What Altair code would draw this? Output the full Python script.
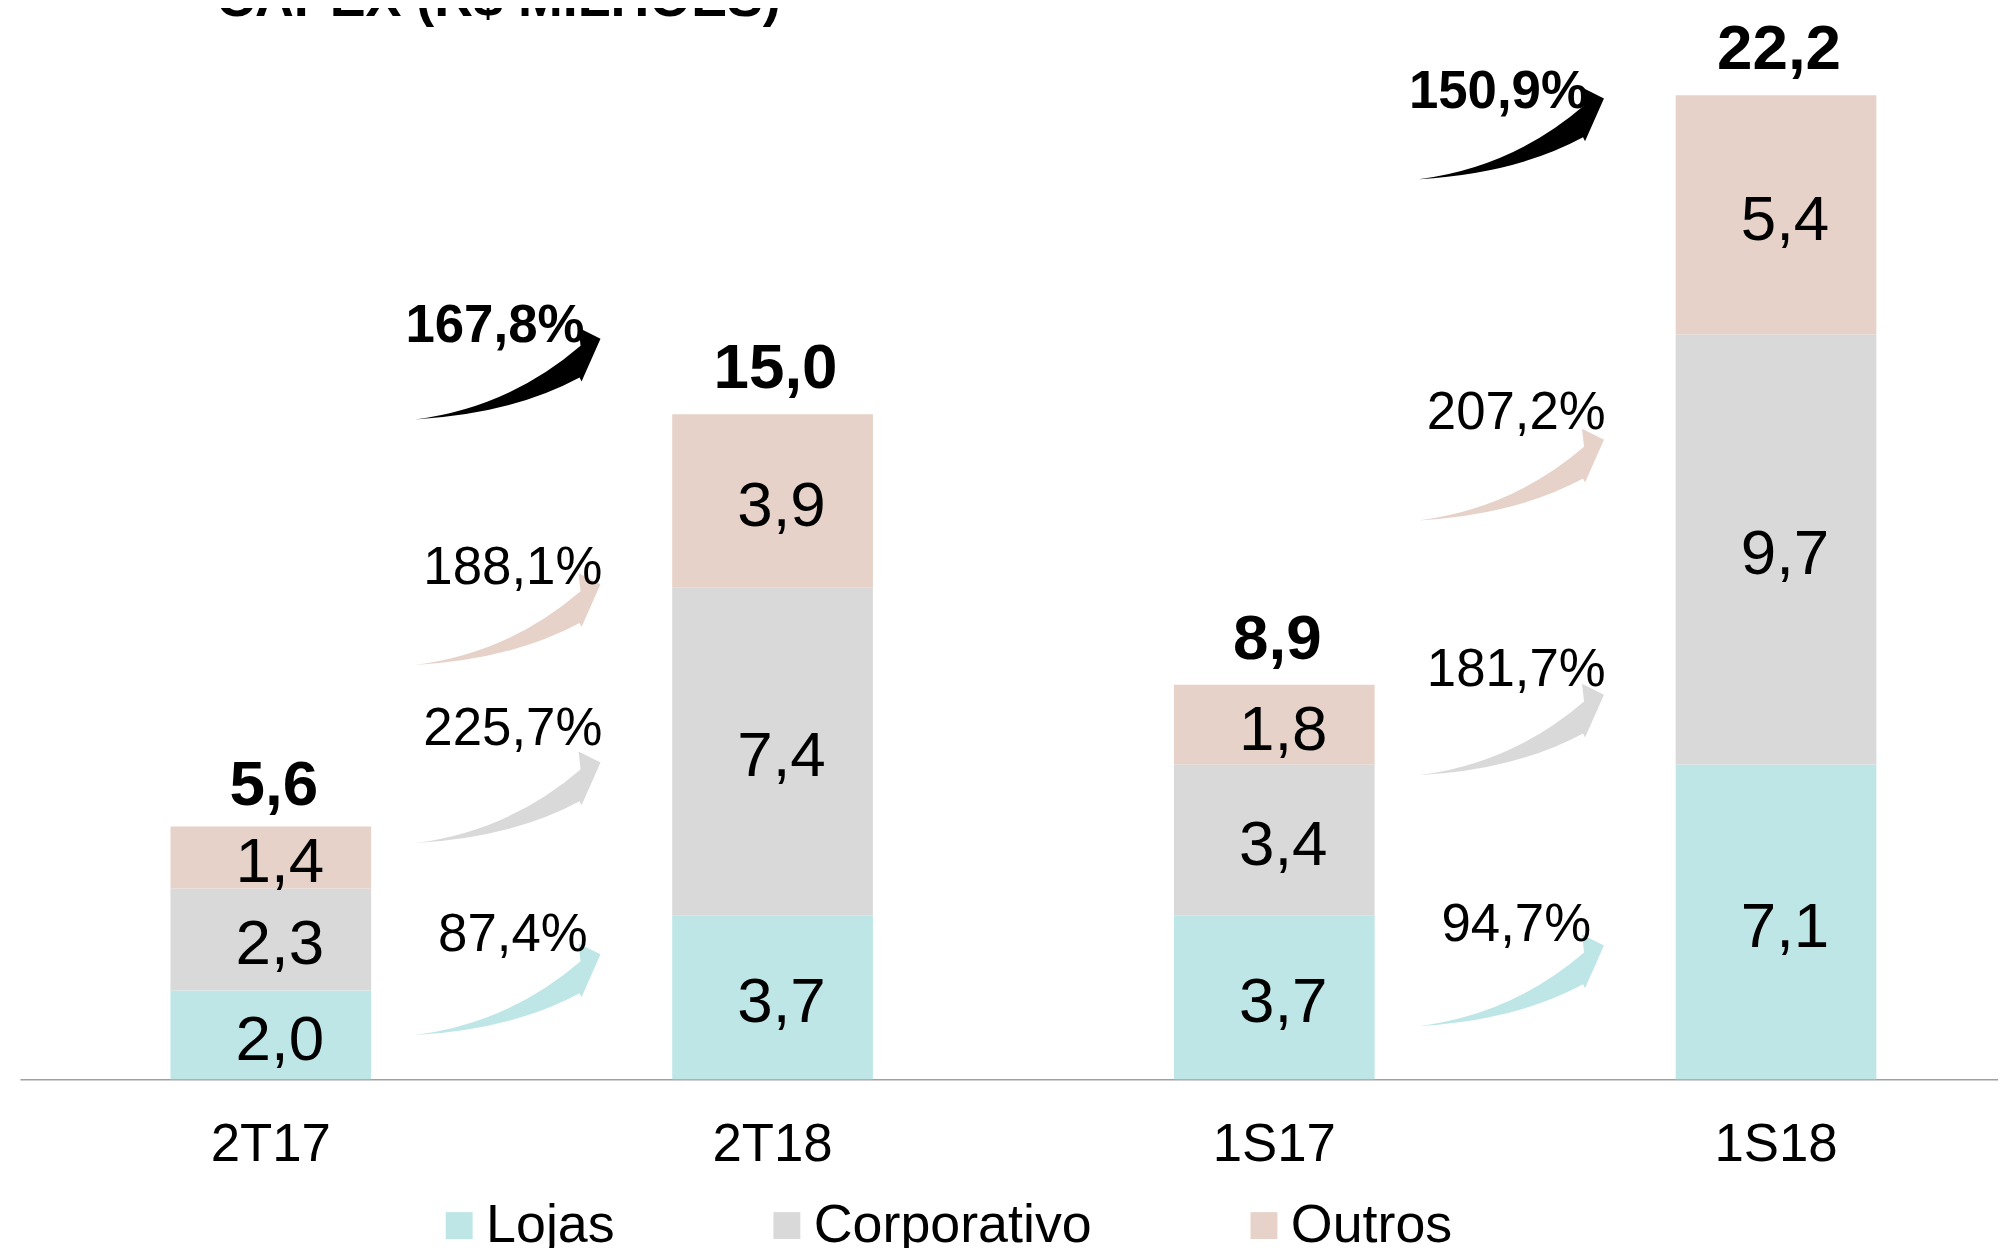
import altair as alt
import pandas as pd

# ---------------- data ----------------
periodos = ["2T17", "2T18", "1S17", "1S18"]
series = ["Lojas", "Corporativo", "Outros"]
lojas = [2.0, 3.7, 3.7, 7.1]
corporativo = [2.3, 7.4, 3.4, 9.7]
outros = [1.4, 3.9, 1.8, 5.4]
totais = [5.6, 15.0, 8.9, 22.2]

# growth arrows: from period -> next period
var_de = ["2T17", "1S17"]
var_lojas = ["87,4%", "94,7%"]
var_corporativo = ["225,7%", "181,7%"]
var_outros = ["188,1%", "207,2%"]
var_total = ["167,8%", "150,9%"]
# vertical level (R$ mi) of each arrow and of its label
nivel_seta_lojas = [2.03, 2.23]
nivel_seta_corporativo = [6.36, 7.89]
nivel_seta_outros = [10.38, 13.64]
nivel_seta_total = [15.92, 21.34]
nivel_rot_lojas = [3.26, 3.48]
nivel_rot_corporativo = [7.89, 9.24]
nivel_rot_outros = [11.53, 15.03]
nivel_rot_total = [17.0, 22.28]

titulo = ["CAPEX (R$ MILHÕES)"]

# ---------------- styling ----------------
FONT = "Liberation Sans"
cores = ["#BFE6E6", "#D9D9D9", "#E6D2C8"]


def fmt(v):
    return f"{v:.1f}".replace(".", ",")


rows = []
for i, p in enumerate(periodos):
    base = 0.0
    for k, (s, vals) in enumerate(zip(series, [lojas, corporativo, outros])):
        v = vals[i]
        rows.append(dict(periodo=p, serie=s, valor=v, ordem=k,
                         meio=base + v / 2, rotulo=fmt(v)))
        base += v
df_bars = pd.DataFrame(rows)

df_tot = pd.DataFrame(dict(periodo=periodos, total=totais,
                           rotulo=[fmt(t) for t in totais]))

arows = []
for s, pcts, ns, nr in [
    ("Lojas", var_lojas, nivel_seta_lojas, nivel_rot_lojas),
    ("Corporativo", var_corporativo, nivel_seta_corporativo, nivel_rot_corporativo),
    ("Outros", var_outros, nivel_seta_outros, nivel_rot_outros),
    ("Total", var_total, nivel_seta_total, nivel_rot_total),
]:
    for j, d in enumerate(var_de):
        arows.append(dict(periodo=d, serie=s, pct=pcts[j], nivel=ns[j], nivel_rot=nr[j]))
df_arr = pd.DataFrame(arows)

df_title = pd.DataFrame(dict(t=titulo))

# curved arrow glyph (pixel geometry, normalised to [-1, 1])
H = 93.0
def P(x, y):
    return f"{x / H:.4f} {y / H:.4f}"
ARROW = ("M " + P(-93, 46) + " Q " + P(1, 34) + " " + P(73, -28) +
         " L " + P(71, -46) + " L " + P(93, -35) + " L " + P(74, 8) +
         " L " + P(72, 4) + " Q " + P(4.5, 40.4) + " " + P(-93, 46) + " Z")
ARROW_SIZE = (2 * H) ** 2

x_scale = alt.Scale(domain=periodos, range=[0, 2015], paddingInner=0.6, paddingOuter=0.3)
y_scale = alt.Scale(domain=[0, 24], nice=False)

X = alt.X("periodo:N", sort=periodos, scale=x_scale,
          axis=alt.Axis(title=None, labelFont=FONT, labelFontSize=53, labelColor="black",
                        labelPadding=66, labelBaseline="middle", labelAngle=0,
                        ticks=False, tickSize=0, grid=False,
                        domainColor="#A0A0A0", domainWidth=1.5))


def Y(field):
    return alt.Y(field, scale=y_scale, axis=None)


legend = alt.Legend(title=None, orient="none", legendX=414, legendY=1188,
                    direction="horizontal", symbolType="square", symbolSize=729,
                    symbolStrokeWidth=0, symbolOpacity=1, labelFont=FONT, labelFontSize=54,
                    labelColor="black", labelOffset=0, columnPadding=145, padding=0,
                    labelLimit=1000)

bars = alt.Chart(df_bars).mark_bar(opacity=1).encode(
    x=X,
    y=alt.Y("valor:Q", stack="zero", scale=y_scale, axis=None),
    color=alt.Color("serie:N", scale=alt.Scale(domain=series, range=cores), legend=legend),
    order=alt.Order("ordem:Q", sort="ascending"),
)

seg_labels = alt.Chart(df_bars).mark_text(
    font=FONT, fontSize=64, color="black", baseline="middle", align="center", dx=9, dy=6
).encode(x=X, y=Y("meio:Q"), text="rotulo:N")

tot_labels = alt.Chart(df_tot).mark_text(
    font=FONT, fontSize=64, fontWeight="bold", color="black", baseline="middle",
    align="center", dy=-45, dx=3
).encode(x=X, y=Y("total:Q"), text="rotulo:N")

title_mark = alt.Chart(df_title).mark_text(
    font=FONT, fontSize=54, fontWeight="bold", color="black", baseline="alphabetic",
    align="left"
).encode(x=alt.value(197), y=alt.value(1), text="t:N")

layers = [bars, seg_labels, tot_labels]

for s, c in zip(series + ["Total"], cores + ["black"]):
    layers.append(
        alt.Chart(df_arr).transform_filter(alt.datum.serie == s).mark_point(
            shape=ARROW, size=ARROW_SIZE, filled=True, opacity=1, strokeWidth=0,
            color=c, xOffset=238
        ).encode(x=X, y=Y("nivel:Q"))
    )

layers.append(
    alt.Chart(df_arr).transform_filter(alt.datum.serie != "Total").mark_text(
        font=FONT, fontSize=53, color="black", baseline="middle", align="center", xOffset=243
    ).encode(x=X, y=Y("nivel_rot:Q"), text="pct:N")
)
layers.append(
    alt.Chart(df_arr).transform_filter(alt.datum.serie == "Total").mark_text(
        font=FONT, fontSize=53, fontWeight="bold", color="black", baseline="middle",
        align="center", xOffset=225
    ).encode(x=X, y=Y("nivel_rot:Q"), text="pct:N")
)
layers.append(title_mark)

chart = alt.layer(*layers).properties(
    width=1986, height=1068,
    autosize=alt.AutoSizeParams(type="none"),
    padding={"left": 12, "top": 5, "right": 0, "bottom": 167},
).configure(background="white").configure_view(stroke=None)

chart.save("out.html", embed_options={"renderer": "svg", "actions": False})
